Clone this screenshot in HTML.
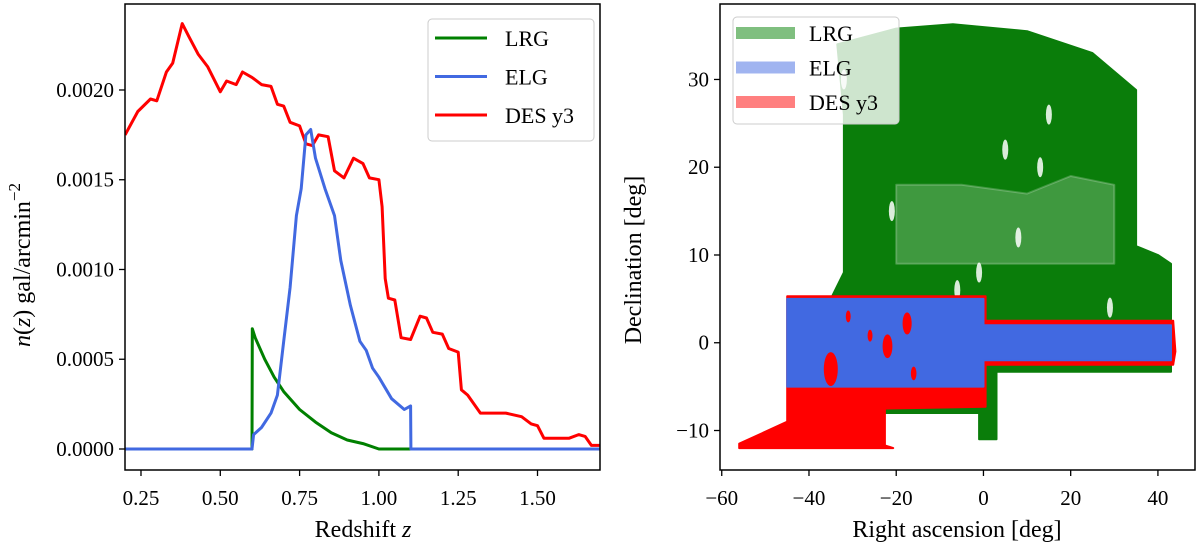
<!DOCTYPE html>
<html><head><meta charset="utf-8">
<style>
body{margin:0;background:#fff;width:1200px;height:549px;overflow:hidden}
svg{font-family:"Liberation Serif","DejaVu Serif",serif}
</style></head>
<body>
<svg id="fig" width="1200" height="549"></svg>
<script>
const NS="http://www.w3.org/2000/svg";
// ---- left chart data ----
const redZ=[0.2,0.24,0.28,0.30,0.33,0.35,0.38,0.40,0.43,0.46,0.50,0.52,0.55,0.57,0.60,0.63,0.66,0.68,0.70,0.72,0.75,0.77,0.79,0.81,0.84,0.86,0.89,0.92,0.95,0.97,1.00,1.01,1.02,1.03,1.05,1.07,1.10,1.13,1.15,1.17,1.20,1.22,1.25,1.26,1.28,1.32,1.37,1.40,1.45,1.48,1.50,1.52,1.57,1.60,1.63,1.65,1.67,1.70];
const redN=[1.75,1.88,1.95,1.94,2.10,2.15,2.37,2.30,2.20,2.13,1.99,2.05,2.03,2.10,2.07,2.03,2.02,1.92,1.91,1.82,1.80,1.70,1.69,1.75,1.74,1.55,1.51,1.62,1.59,1.51,1.50,1.35,0.95,0.84,0.83,0.62,0.61,0.74,0.73,0.65,0.64,0.56,0.54,0.33,0.30,0.20,0.20,0.20,0.18,0.14,0.13,0.06,0.06,0.06,0.08,0.07,0.02,0.02];
const elgZ=[0.2,0.6,0.605,0.63,0.66,0.68,0.70,0.72,0.74,0.755,0.77,0.785,0.80,0.83,0.86,0.88,0.91,0.94,0.96,0.98,1.00,1.04,1.08,1.10,1.101,1.7];
const elgN=[0,0,0.08,0.12,0.20,0.30,0.60,0.90,1.30,1.45,1.75,1.78,1.62,1.45,1.30,1.05,0.80,0.60,0.55,0.45,0.40,0.28,0.22,0.24,0,0];
const lrgZ=[0.2,0.6,0.601,0.61,0.64,0.67,0.70,0.75,0.80,0.85,0.90,0.95,1.00,1.7];
const lrgN=[0,0,0.67,0.62,0.50,0.40,0.32,0.22,0.15,0.09,0.05,0.03,0,0];
const xTicksL=[0.25,0.50,0.75,1.00,1.25,1.50];
const xTickLabelsL=["0.25","0.50","0.75","1.00","1.25","1.50"];
const yTicksL=[0,0.5,1.0,1.5,2.0];
const yTickLabelsL=["0.0000","0.0005","0.0010","0.0015","0.0020"];
// ---- right chart data (RA, Dec polygons) ----
const lrgPolyRA=[-33.5,-20,-7,10,25,35,35,40,43,43,3,3,-1,-1,-23,-23,-35,-35,-32,-32];
const lrgPolyDec=[34,35.8,36.3,35.5,33,28.8,11,10,9,-3.3,-3.3,-11,-11,-8,-8,-7,-7,5,8,26];
const lightRA=[-20,-5,10,20,30,30,-20];
const lightDec=[18,18,17,19,18,9,9];
const elgPolyRA=[-45,0,0,43,43,0,0,-45];
const elgPolyDec=[5,5,2,2,-2,-2,-5,-5];
const desPolyRA=[-45,0.5,0.5,43.5,44,43.5,0.5,0.5,-22.6,-22.6,-20.7,-56,-56,-45,-45];
const desPolyDec=[5.3,5.3,2.5,2.5,-1,-2.5,-2.5,-7.3,-7.5,-11.7,-12,-12,-11.5,-9,5];
const blobRA=[-35,-22,-17.5,-16,-26,-31];
const blobDec=[-3,-0.4,2.2,-3.5,0.8,3];
const blobR=[1.0,0.7,0.65,0.4,0.35,0.35];
const holeRA=[-21,5,13,8,15,-6,-1,29,-32];
const holeDec=[15,22,20,12,26,6,8,4,30];
const xTicksR=[-60,-40,-20,0,20,40];
const xTickLabelsR=["\u221260","\u221240","\u221220","0","20","40"];
const yTicksR=[-10,0,10,20,30];
const yTickLabelsR=["\u221210","0","10","20","30"];

const svg=document.getElementById('fig');
function el(t,a,p){const e=document.createElementNS(NS,t);for(const k in a)e.setAttribute(k,a[k]);(p||svg).appendChild(e);return e;}

// Left axes
const L={x0:125,x1:600,y0:4,y1:470,xmin:0.1996,xmax:1.697,ymin:-0.117,ymax:2.479};
const lx=v=>L.x0+(v-L.xmin)/(L.xmax-L.xmin)*(L.x1-L.x0);
const ly=v=>L.y1-(v-L.ymin)/(L.ymax-L.ymin)*(L.y1-L.y0);
const gL=el('g',{});


const clipL=el('clipPath',{id:'cl'});el('rect',{x:L.x0,y:L.y0,width:L.x1-L.x0,height:L.y1-L.y0},clipL);
function line(zs,ns,color,name){
  const d=zs.map((z,i)=>(i?'L':'M')+lx(z).toFixed(1)+','+ly(ns[i]).toFixed(1)).join('');
  const p=el('path',{d:d,fill:'none',stroke:color,'stroke-width':3,'stroke-linejoin':'round','clip-path':'url(#cl)'},gL);
  
  
}
line(redZ,redN,'#ff0000','des-y3-line');
line(lrgZ,lrgN,'#008000','lrg-line');
line(elgZ,elgN,'#4169e1','elg-line');
el('rect',{x:L.x0,y:L.y0,width:L.x1-L.x0,height:L.y1-L.y0,fill:'none',stroke:'#000','stroke-width':1.5},gL);
xTicksL.forEach((v,i)=>{const x=lx(v);el('line',{x1:x,x2:x,y1:L.y1,y2:L.y1+6,stroke:'#000','stroke-width':1.3},gL);
  const t=el('text',{x:x,y:L.y1+35,'text-anchor':'middle','font-size':21},gL);t.textContent=xTickLabelsL[i];
  });
yTicksL.forEach((v,i)=>{const y=ly(v);el('line',{x1:L.x0-6,x2:L.x0,y1:y,y2:y,stroke:'#000','stroke-width':1.3},gL);
  const t=el('text',{x:L.x0-11,y:y+7,'text-anchor':'end','font-size':21},gL);t.textContent=yTickLabelsL[i];
  });
let t=el('text',{x:363,y:537,'text-anchor':'middle','font-size':24},gL);t.innerHTML='Redshift <tspan font-style="italic">z</tspan>';

t=el('text',{x:0,y:0,'text-anchor':'middle','font-size':24,transform:'translate(30,265) rotate(-90)'},gL);
t.innerHTML='<tspan font-style="italic">n</tspan>(<tspan font-style="italic">z</tspan>)  gal/arcmin<tspan dy="-10" font-size="17">\u22122</tspan>';

// left legend
const lg=el('g',{});
el('rect',{x:428,y:19,width:166,height:122,rx:4,fill:'#fff','fill-opacity':0.8,stroke:'#ccc'},lg);
[['LRG','#008000'],['ELG','#4169e1'],['DES y3','#ff0000']].forEach((e,i)=>{const y=38+i*38.5;
  const ln=el('line',{x1:435,x2:487,y1:y,y2:y,stroke:e[1],'stroke-width':3},lg);
  
  const tt=el('text',{x:505,y:y+8,'font-size':22},lg);tt.textContent=e[0];
  });

// Right axes
const R={x0:720,x1:1195,y0:4,y1:470,xmin:-60.4,xmax:48.5,ymin:-14.5,ymax:38.6};
const rx=v=>R.x0+(v-R.xmin)/(R.xmax-R.xmin)*(R.x1-R.x0);
const ry=v=>R.y1-(v-R.ymin)/(R.ymax-R.ymin)*(R.y1-R.y0);
const gR=el('g',{});


function poly(ras,decs,fill,name,op){
  const p=el('polygon',{points:ras.map((r,i)=>rx(r).toFixed(1)+','+ry(decs[i]).toFixed(1)).join(' '),fill:fill,'fill-opacity':op||1,stroke:fill,'stroke-opacity':op||1,'stroke-width':2,'stroke-linejoin':'round'},gR);
  
}
poly(lrgPolyRA,lrgPolyDec,'#0a7d0a','lrg-footprint');
poly(lightRA,lightDec,'#ffffff','lrg-sparse-region',0.22);
holeRA.forEach((r,i)=>{const e=el('ellipse',{cx:rx(r),cy:ry(holeDec[i]),rx:3,ry:10,fill:'#fff','fill-opacity':0.85},gR);
  });
poly(desPolyRA,desPolyDec,'#ff0000','des-y3-footprint');
poly(elgPolyRA,elgPolyDec,'#4169e1','elg-footprint');
blobRA.forEach((r,i)=>{const e=el('ellipse',{cx:rx(r),cy:ry(blobDec[i]),rx:blobR[i]*7,ry:blobR[i]*17,fill:'#ff0000'},gR);
  });
el('rect',{x:R.x0,y:R.y0,width:R.x1-R.x0,height:R.y1-R.y0,fill:'none',stroke:'#000','stroke-width':1.5},gR);
xTicksR.forEach((v,i)=>{const x=rx(v);el('line',{x1:x,x2:x,y1:R.y1,y2:R.y1+6,stroke:'#000','stroke-width':1.3},gR);
  const tt=el('text',{x:x,y:R.y1+35,'text-anchor':'middle','font-size':21},gR);tt.textContent=xTickLabelsR[i];
  });
yTicksR.forEach((v,i)=>{const y=ry(v);el('line',{x1:R.x0-6,x2:R.x0,y1:y,y2:y,stroke:'#000','stroke-width':1.3},gR);
  const tt=el('text',{x:R.x0-11,y:y+7,'text-anchor':'end','font-size':21},gR);tt.textContent=yTickLabelsR[i];
  });
t=el('text',{x:957,y:537,'text-anchor':'middle','font-size':24},gR);t.textContent='Right ascension [deg]';

t=el('text',{x:0,y:0,'text-anchor':'middle','font-size':24,transform:'translate(641,260) rotate(-90)'},gR);t.textContent='Declination [deg]';

const rg=el('g',{});
el('rect',{x:733,y:17,width:166,height:107,rx:4,fill:'#fff','fill-opacity':0.8,stroke:'#ccc'},rg);
[['LRG','#7fbf7f'],['ELG','#a0b4f0'],['DES y3','#ff7f7f']].forEach((e,i)=>{const y=33+i*34.5;
  const r=el('rect',{x:736,y:y-6,width:59,height:12,fill:e[1]},rg);
  
  const tt=el('text',{x:809,y:y+8,'font-size':22},rg);tt.textContent=e[0];
  });
</script>
</body></html>
